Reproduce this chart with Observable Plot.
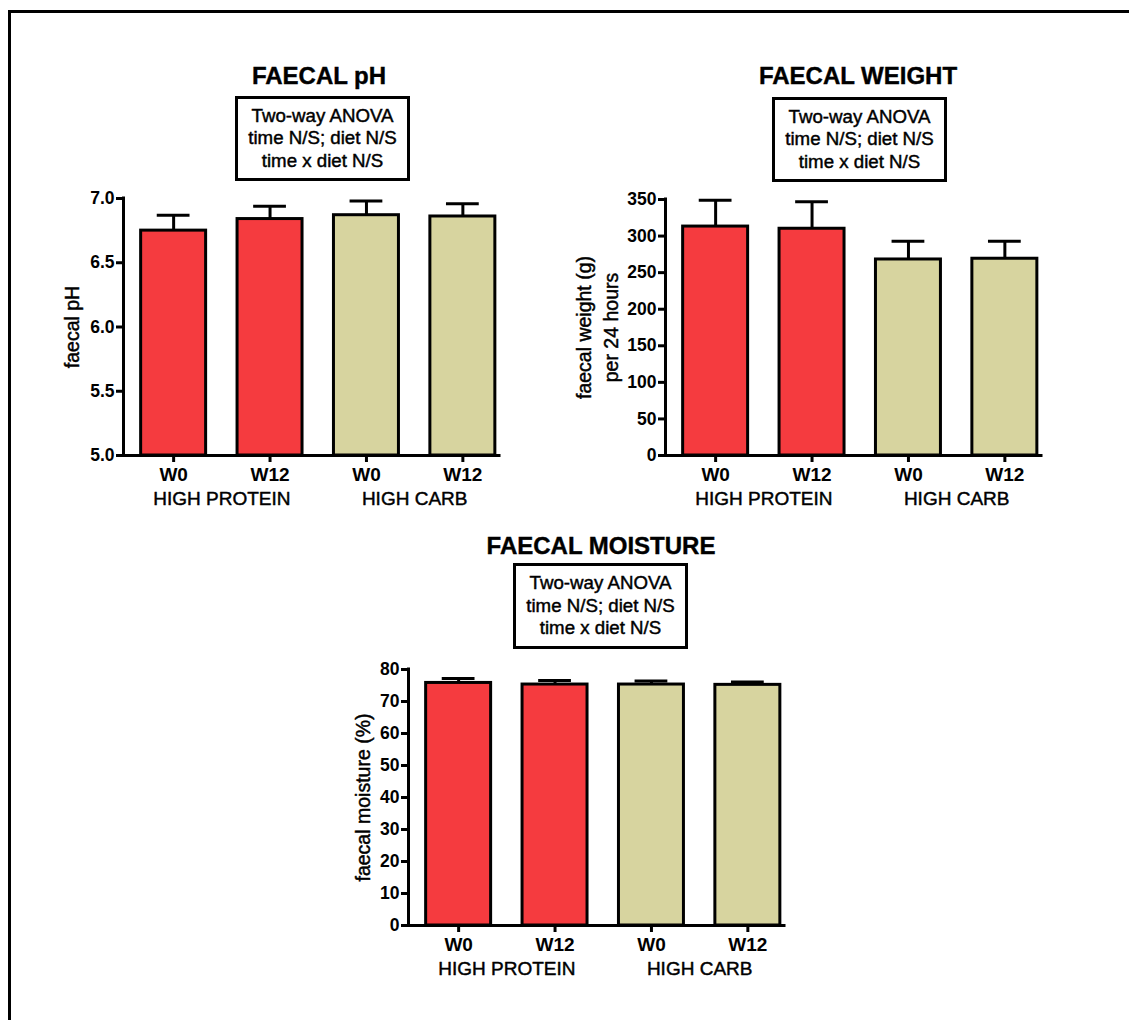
<!DOCTYPE html>
<html>
<head>
<meta charset="utf-8">
<script src="https://cdn.jsdelivr.net/npm/d3@7"></script>
<script src="https://cdn.jsdelivr.net/npm/@observablehq/plot@0.6"></script>
<style>
  body { margin: 0; background: #fff; }
  #page { position: relative; width: 1129px; height: 1020px; overflow: hidden; background: #fff;
          font-family: "Liberation Sans", Arial, Helvetica, sans-serif; color: #000; }
  #border { position: absolute; left: 8px; top: 10px; width: 1300px; height: 1200px;
            border-left: 3px solid #000; border-top: 3px solid #000; }
  .title { position: absolute; transform: translateX(-50%); white-space: nowrap;
           font-weight: bold; font-size: 24px; line-height: 24px; -webkit-text-stroke: 0.4px #000; }
  .anova { position: absolute; box-sizing: border-box; border: 3px solid #000; background: #fff;
           display: flex; flex-direction: column; justify-content: center; align-items: center;
           font-size: 18.7px; line-height: 22.5px; white-space: nowrap; -webkit-text-stroke: 0.45px #000; }
  .panel { position: absolute; }
</style>
</head>
<body>
<div id="page"><div id="border"></div></div>
<script>
// Groups along the x axis
const times = ["W0", "W12", "W0", "W12"];
const diets = ["HIGH PROTEIN", "HIGH PROTEIN", "HIGH CARB", "HIGH CARB"];
const dietNames = ["HIGH PROTEIN", "HIGH CARB"];
const dietColors = ["#f53b3f", "#d7d49f"];

// Faecal pH: bar means and the top of each error bar
const phMean  = [6.75, 6.84, 6.87, 6.86];
const phUpper = [6.87, 6.94, 6.98, 6.96];
const phTicks = [5.0, 5.5, 6.0, 6.5, 7.0];

// Faecal weight (g per 24 h)
const weightMean  = [313, 310, 268, 269];
const weightUpper = [349, 347, 293, 293];
const weightTicks = [0, 50, 100, 150, 200, 250, 300, 350];

// Faecal moisture (%)
const moistureMean  = [75.8, 75.3, 75.3, 75.2];
const moistureUpper = [77.2, 76.6, 76.4, 76.1];
const moistureTicks = [0, 10, 20, 30, 40, 50, 60, 70, 80];

// Statistics box text (same for all three panels)
const anovaLines = ["Two-way ANOVA", "time N/S; diet N/S", "time x diet N/S"];

const FONT = '"Liberation Sans", Arial, Helvetica, sans-serif';
const X_DOMAIN = [-0.52, 3.38];
const BAR_HALF = 0.337;
const CAP_HALF = 0.17;
const LINE = 3;

const page = document.getElementById("page");

function addTitle(text, cx, top) {
  const el = document.createElement("div");
  el.className = "title";
  el.textContent = text;
  el.style.left = cx + "px";
  el.style.top = top + "px";
  page.appendChild(el);
}

function addAnova(left, top, width, height) {
  const el = document.createElement("div");
  el.className = "anova";
  Object.assign(el.style, {left: left + "px", top: top + "px", width: width + "px", height: height + "px"});
  for (const line of anovaLines) {
    const d = document.createElement("div");
    d.textContent = line;
    el.appendChild(d);
  }
  page.appendChild(el);
}

function barPanel(cfg) {
  const base = cfg.ticks[0];
  const rows = times.map((t, i) => ({
    i, time: t, diet: diets[i], mean: cfg.mean[i], upper: cfg.upper[i],
    color: dietColors[dietNames.indexOf(diets[i])]
  }));
  const groups = dietNames.map(name => {
    const members = rows.filter(r => r.diet === name);
    return {name, pos: d3.mean(members, r => r.i)};
  });
  const chart = Plot.plot({
    width: cfg.width, height: cfg.height,
    marginLeft: cfg.marginLeft, marginRight: cfg.marginRight,
    marginTop: cfg.marginTop, marginBottom: cfg.marginBottom,
    style: {fontFamily: FONT, color: "#000", background: "transparent", overflow: "visible"},
    x: {domain: X_DOMAIN},
    y: {domain: [base, cfg.ticks[cfg.ticks.length - 1]]},
    marks: [
      // error bars (upper arm only)
      Plot.ruleX(rows, {x: "i", y1: "mean", y2: "upper", stroke: "#000", strokeWidth: LINE}),
      Plot.ruleY(rows, {y: "upper", x1: d => d.i - CAP_HALF, x2: d => d.i + CAP_HALF, stroke: "#000", strokeWidth: LINE}),
      // bars
      Plot.rect(rows, {x1: d => d.i - BAR_HALF, x2: d => d.i + BAR_HALF, y1: base, y2: "mean",
        fill: "color", stroke: "#000", strokeWidth: LINE}),
      // axis lines
      Plot.ruleX([X_DOMAIN[0]], {stroke: "#000", strokeWidth: LINE, strokeLinecap: "square"}),
      Plot.ruleY([base], {stroke: "#000", strokeWidth: LINE, strokeLinecap: "square"}),
      Plot.axisY({ticks: cfg.ticks, tickFormat: cfg.format, tickSize: 7, tickPadding: 2,
        strokeWidth: LINE, fontSize: 17.5, fontWeight: "bold", label: null}),
      Plot.axisX({ticks: rows.map(r => r.i), tickFormat: i => times[i], tickSize: 7, tickPadding: 5,
        strokeWidth: LINE, fontSize: 19, fontWeight: "bold", label: null}),
      // diet group labels under each pair of bars
      Plot.text(groups, {x: "pos", text: "name", frameAnchor: "bottom", dy: 43,
        lineAnchor: "middle", fontSize: 19, stroke: "#000", strokeWidth: 0.45, fill: "#000"}),
      // y axis title
      Plot.text([cfg.label], {frameAnchor: "left", rotate: -90, dx: cfg.labelDx,
        lineAnchor: "middle", textAnchor: "middle", fontSize: 19.5, lineHeight: 1.4,
        stroke: "#000", strokeWidth: 0.45, fill: "#000"})
    ]
  });
  chart.classList.add("panel");
  chart.style.left = cfg.left + "px";
  chart.style.top = cfg.top + "px";
  page.appendChild(chart);
}

// FAECAL pH
addTitle("FAECAL pH", 319, 64);
addAnova(235, 96, 175, 85);
barPanel({
  mean: phMean, upper: phUpper, ticks: phTicks, format: d3.format(".1f"),
  label: "faecal pH", labelDx: -53,
  left: 20, top: 185, width: 500, height: 330,
  marginLeft: 103, marginRight: 21, marginTop: 13, marginBottom: 60
});

// FAECAL WEIGHT
addTitle("FAECAL WEIGHT", 858, 64);
addAnova(772, 97, 175, 85);
barPanel({
  mean: weightMean, upper: weightUpper, ticks: weightTicks, format: d3.format("d"),
  label: "faecal weight (g)\nper 24 hours", labelDx: -70,
  left: 540, top: 185, width: 520, height: 330,
  marginLeft: 125, marginRight: 19, marginTop: 14, marginBottom: 60
});

// FAECAL MOISTURE
addTitle("FAECAL MOISTURE", 601, 534);
addAnova(513, 563, 175, 86);
barPanel({
  mean: moistureMean, upper: moistureUpper, ticks: moistureTicks, format: d3.format("d"),
  label: "faecal moisture (%)", labelDx: -47,
  left: 290, top: 655, width: 520, height: 330,
  marginLeft: 118, marginRight: 26, marginTop: 14, marginBottom: 60
});
</script>
</body>
</html>
